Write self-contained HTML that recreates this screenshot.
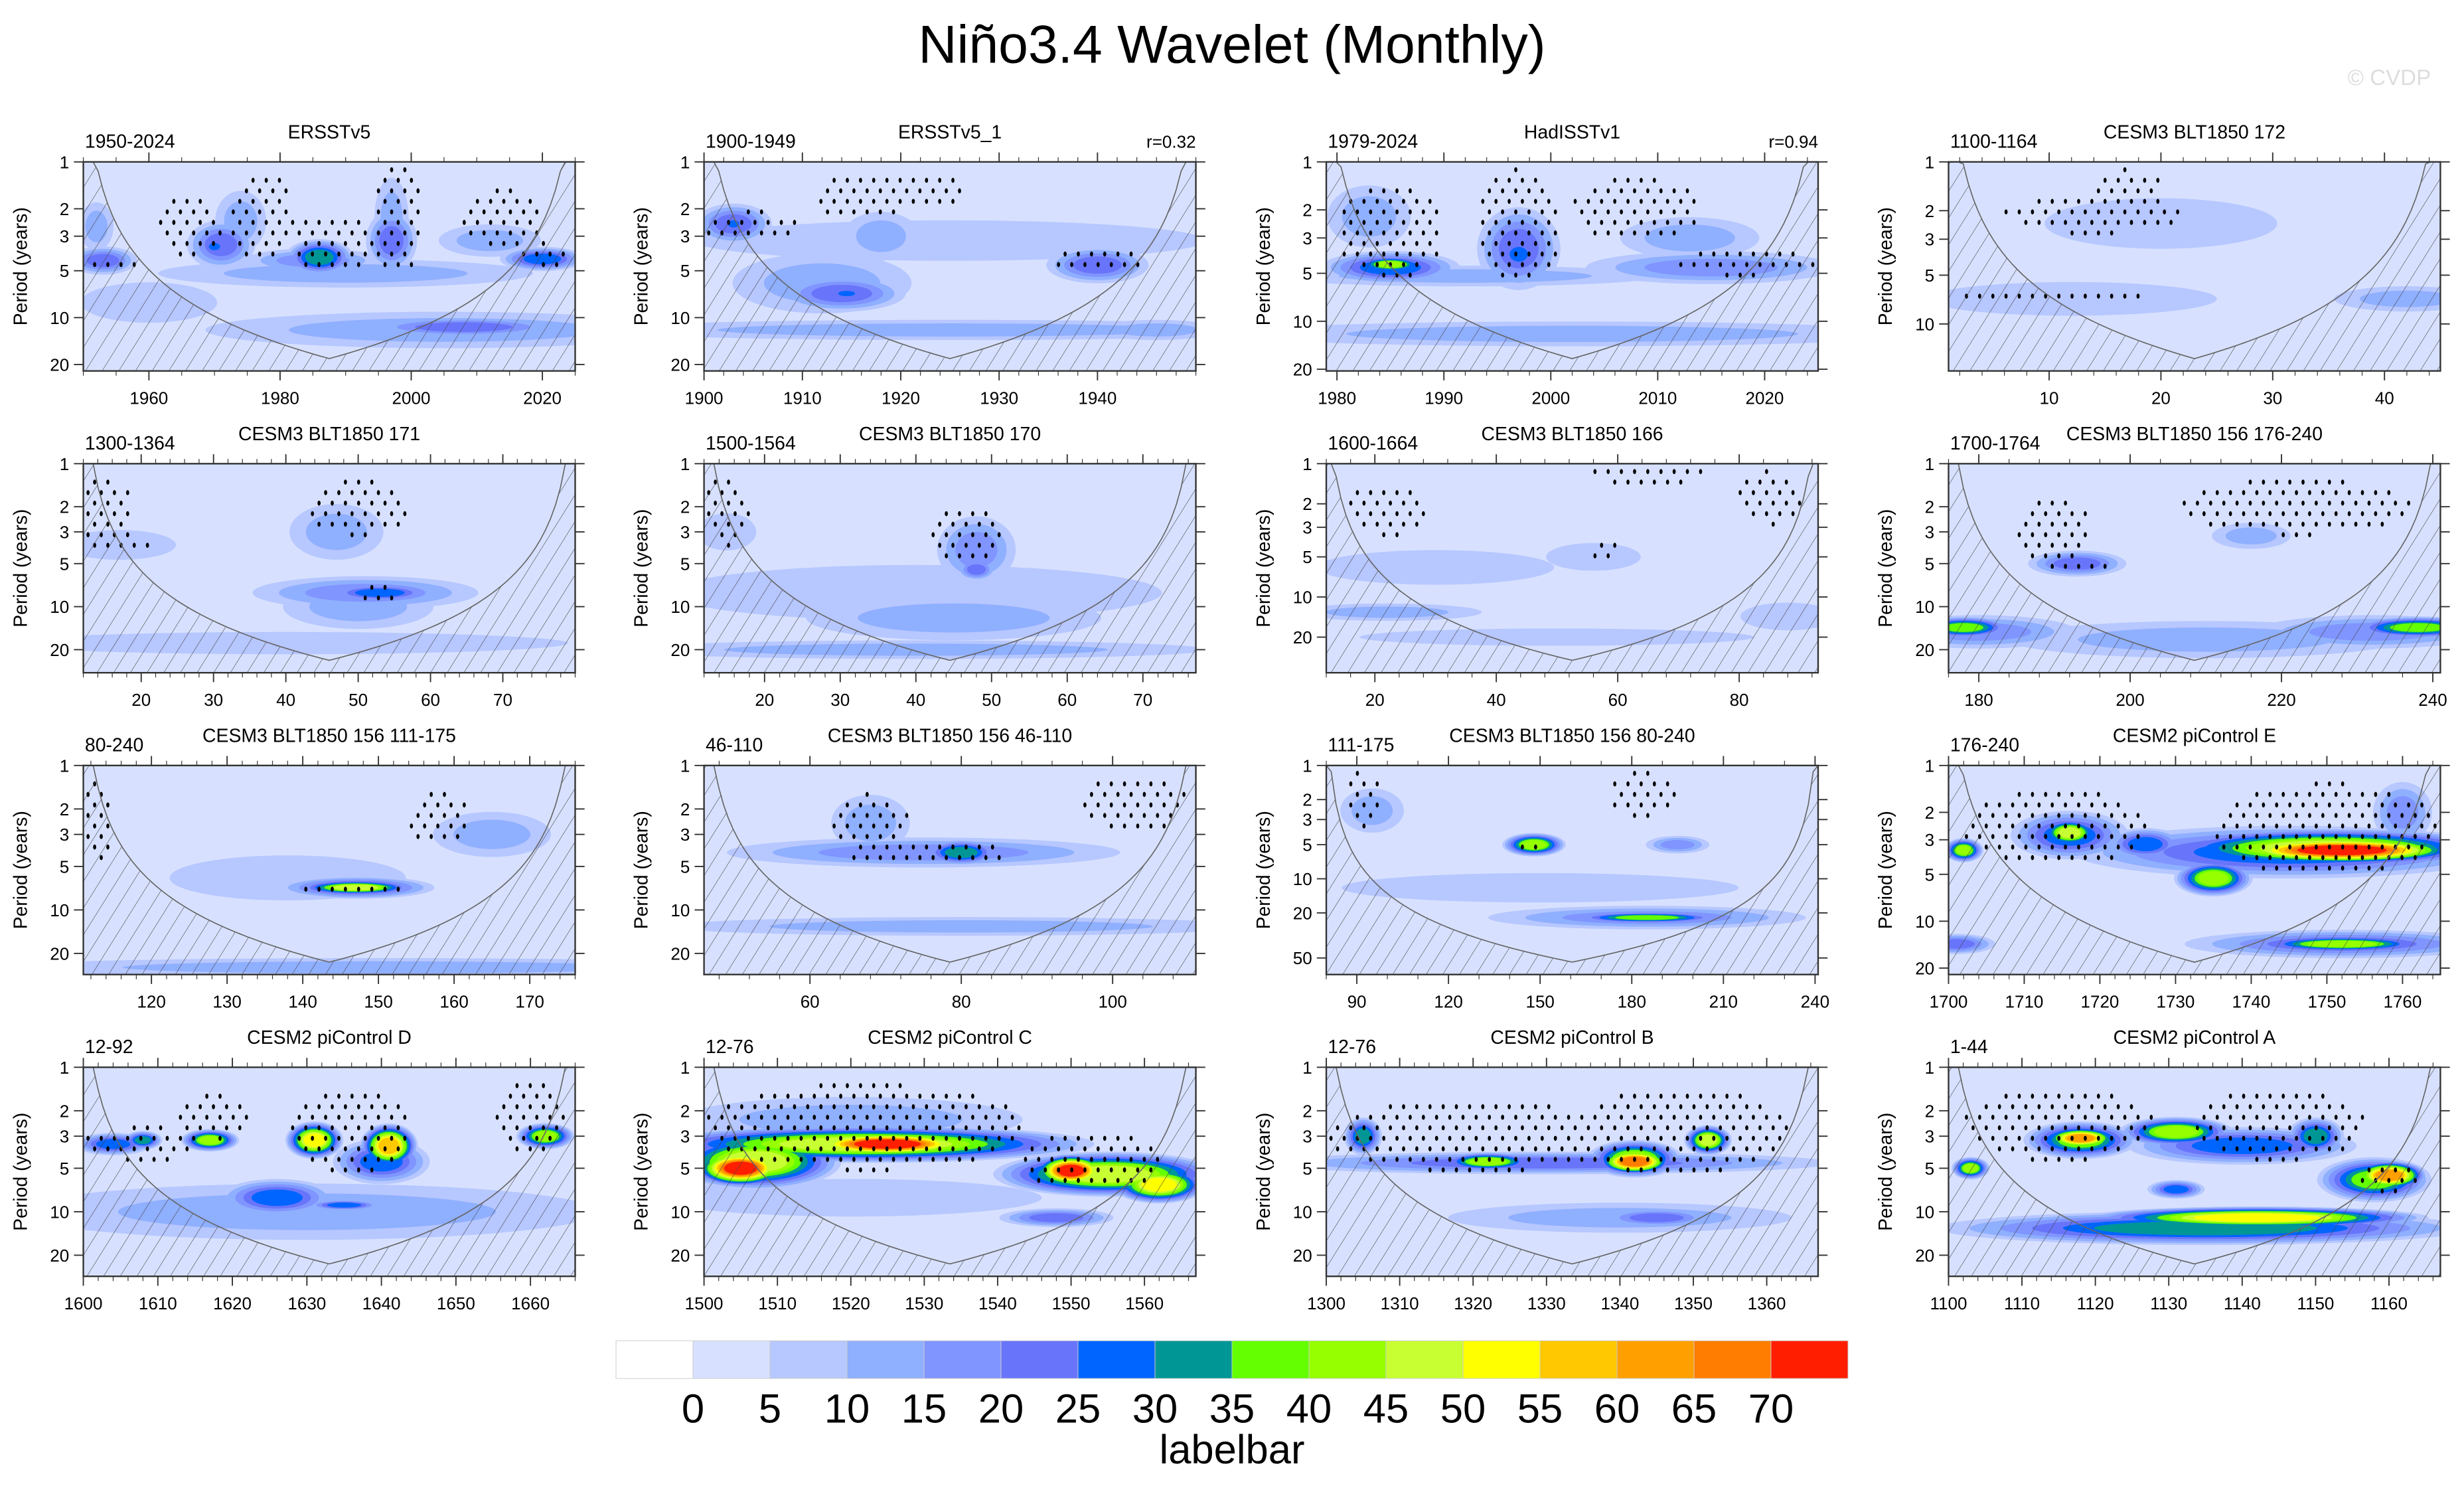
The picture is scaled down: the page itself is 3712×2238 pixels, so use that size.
<!DOCTYPE html>
<html><head><meta charset="utf-8">
<style>
html,body{margin:0;padding:0;background:#fff;}
svg{display:block;}
text{font-family:"Liberation Sans",sans-serif;fill:#000;}
</style></head>
<body>
<svg id="chart" width="3712" height="2238" viewBox="0 0 1568 945.4" xmlns="http://www.w3.org/2000/svg">
<defs>
<pattern id="hatch" patternUnits="userSpaceOnUse" width="9" height="9" patternTransform="rotate(32)">
<line x1="0" y1="0" x2="0" y2="9" stroke="#444" stroke-width="0.5"/>
</pattern>
</defs>
<text x="784" y="40" font-size="34" text-anchor="middle">Niño3.4 Wavelet (Monthly)</text>
<text x="1547" y="54" font-size="14" text-anchor="end" style="fill:#ddd">© CVDP</text>
</svg>
<script>
// ---- data ----
const levelColors = ["#ffffff","#d7e1ff","#b7c7ff","#8fafff","#8095ff","#6875fa","#0064ff","#009696","#64ff00","#96ff00","#c8ff32","#ffff00","#ffc800","#ffa000","#ff7d00","#ff1e00"];
const labelbarValues = [0,5,10,15,20,25,30,35,40,45,50,55,60,65,70];
const panelTitles = ["ERSSTv5","ERSSTv5_1","HadISSTv1","CESM3 BLT1850 172","CESM3 BLT1850 171","CESM3 BLT1850 170","CESM3 BLT1850 166","CESM3 BLT1850 156 176-240","CESM3 BLT1850 156 111-175","CESM3 BLT1850 156 46-110","CESM3 BLT1850 156 80-240","CESM2 piControl E","CESM2 piControl D","CESM2 piControl C","CESM2 piControl B","CESM2 piControl A"];
const panelLeftLabels = ["1950-2024","1900-1949","1979-2024","1100-1164","1300-1364","1500-1564","1600-1664","1700-1764","80-240","46-110","111-175","176-240","12-92","12-76","12-76","1-44"];
const panelRightLabels = ["","r=0.32","r=0.94","","","","","","","","","","","","",""];
const panelRanges = [[1950,2025],[1900,1950],[1979,2025],[1,45],[12,80],[12,77],[12,93],[176,241],[111,176],[46,111],[80,241],[1700,1765],[1600,1666],[1500,1567],[1300,1367],[1100,1167]];
const panelPeriodMax = [22,22,20.5,19.5,29,29,37,29,28,28,70,22,28,28,28,28];
const panelXTicks = [[1960,1980,2000,2020],[1900,1910,1920,1930,1940],[1980,1990,2000,2010,2020],[10,20,30,40],[20,30,40,50,60,70],[20,30,40,50,60,70],[20,40,60,80],[180,200,220,240],[120,130,140,150,160,170],[60,80,100],[90,120,150,180,210,240],[1700,1710,1720,1730,1740,1750,1760],[1600,1610,1620,1630,1640,1650,1660],[1500,1510,1520,1530,1540,1550,1560],[1300,1310,1320,1330,1340,1350,1360],[1100,1110,1120,1130,1140,1150,1160]];
const panelMinorStep = [5,2,2,2,2,2,4,4,2,4,10,2,2,2,2,2];
// blobs: [time, period, halfWidthYears, halfHeightDecades, peakLevel]
const blobs = [
 [[1953,4.3,4,0.07,5],[1952,2.6,2,0.12,3],[1971,3.4,4,0.12,5],[1970,3.5,1.5,0.04,6],[1986,4.1,4,0.09,7],[1985,4.3,8,0.06,4],[1997,3.2,3,0.15,5],[1974,2.4,3,0.15,3],[1997,2.3,2,0.2,3],[1990,5.2,22,0.07,3],[2008,11.5,12,0.05,5],[2005,12,28,0.09,3],[2020,4.2,5,0.06,6],[2012,3.2,6,0.08,3],[1960,8,8,0.1,2]],
 [[1903,2.5,3,0.1,5],[1903,2.5,1,0.04,6],[1914,7,5,0.09,5],[1914.5,7,1.5,0.03,6],[1912,6,7,0.15,3],[1940,4.6,4,0.09,5],[1925,12,28,0.05,3],[1946,12,5,0.05,3],[1925,3.2,20,0.1,2],[1918,3,3,0.12,3]],
 [[1985,4.6,5,0.08,6],[1985,4.4,2.5,0.04,9],[1997,3.5,3,0.2,5],[1997,3.8,1.5,0.08,6],[1992,5.2,14,0.05,3],[2002,12,25,0.06,3],[2015,4.6,9,0.08,4],[2013,3,5,0.1,3],[1983,2.2,3,0.15,3]],
 [[42,7,5,0.06,3],[12,7,10,0.08,2],[20,2.4,8,0.12,2]],
 [[53,8,6,0.05,6],[51,8,12,0.09,4],[50,10,8,0.12,3],[47,3,5,0.15,3],[40,18,30,0.06,2],[17,3.7,6,0.08,2]],
 [[48,4,4,0.18,4],[48,5.5,2,0.06,5],[45,12,15,0.12,3],[40,8,25,0.15,2],[40,20,30,0.05,3],[15,3,3,0.1,2]],
 [[30,6,15,0.1,2],[22,13,12,0.05,3],[56,5,6,0.08,2],[88,14,6,0.08,2],[50,20,25,0.05,2]],
 [[193,5,5,0.07,5],[178,14,5,0.06,8],[180,15,10,0.09,4],[238,14,7,0.06,8],[232,15,12,0.09,4],[216,3.2,4,0.07,3],[210,17,20,0.1,3]],
 [[147,7,8,0.06,6],[147,7,6,0.04,10],[150,25,40,0.05,3],[138,6,12,0.12,2],[165,3,6,0.12,3]],
 [[80,4,4,0.07,7],[75,4,20,0.08,4],[80,13,30,0.05,3],[68,2.5,4,0.15,3]],
 [[148,5,8,0.08,9],[185,22,20,0.04,8],[185,22,40,0.08,4],[150,12,50,0.1,2],[95,2.5,8,0.15,3],[195,5,8,0.06,4]],
 [[1752,3.5,13,0.07,15],[1750,3.4,18,0.1,10],[1745,3.6,22,0.13,6],[1735,5.3,4,0.09,9],[1716,2.7,3,0.07,10],[1716,2.8,6,0.12,6],[1702,3.5,2,0.06,9],[1726,3.2,4,0.08,6],[1752,14,9,0.04,9],[1752,14,16,0.07,5],[1701,14,4,0.05,5],[1760,2,3,0.15,4]],
 [[1617,3.2,3,0.06,9],[1608,3.2,2,0.05,7],[1604,3.4,4,0.06,6],[1631,3.2,3,0.1,11],[1641,3.5,3,0.12,12],[1640,4.5,5,0.12,6],[1662,3,3,0.07,9],[1626,8,6,0.1,6],[1635,9,4,0.03,6],[1630,10,30,0.15,3]],
 [[1505,5,5,0.1,15],[1507,4.5,9,0.15,10],[1525,3.4,10,0.07,15],[1522,3.4,24,0.1,10],[1520,2.3,18,0.12,3],[1550,5.2,4,0.09,15],[1555,5.5,12,0.12,10],[1562,6.5,5,0.1,11],[1548,11,6,0.05,5],[1520,8,20,0.1,2]],
 [[1342,4.5,4,0.07,14],[1342,4.3,5,0.1,9],[1322,4.5,5,0.05,9],[1330,4.6,30,0.06,5],[1352,3.2,2.5,0.08,10],[1305,3,2,0.1,7],[1345,11,6,0.05,5],[1340,11,18,0.08,3]],
 [[1118,3.1,4,0.06,13],[1118,3.2,6,0.1,8],[1131,2.8,6,0.08,9],[1140,3.5,12,0.1,6],[1150,3,3,0.1,7],[1142,11,18,0.06,11],[1135,13,28,0.09,7],[1160,5.6,4,0.08,13],[1158,6,6,0.12,8],[1131,7,3,0.05,6],[1103,5,2,0.06,9]]
];
// stipple regions (elliptical): [time, period, halfWidthYears, halfHeightDecades]
const stipples = [
 [[1955,4.5,4,0.06],[1966,2.6,5,0.2],[1977,2.3,5,0.3],[1988,3.3,6,0.2],[1998,2.3,4,0.35],[2014,2.3,6,0.2],[2021,4,4,0.08]],
 [[1905,2.6,5,0.1],[1916,1.7,5,0.15],[1940,4.3,5,0.08],[1923,1.5,4,0.1]],
 [[1985,2.7,5,0.3],[1997,2.5,4,0.35],[2008,2,6,0.2],[2018,4.3,7,0.08]],
 [[14,2.1,8,0.12],[10,6.8,8,0.06],[17,1.4,3,0.1]],
 [[15,2.2,4,0.25],[50,2,7,0.2],[53,8,7,0.04],[16,3.6,6,0.06]],
 [[15,2.2,3,0.25],[47,3.2,5,0.2]],
 [[22,2.2,7,0.2],[58,4.5,3,0.05],[85,1.8,6,0.2],[65,1.2,10,0.08]],
 [[190,3,5,0.25],[222,2,15,0.2],[194,5,4,0.05]],
 [[113,2.5,2,0.3],[147,7,7,0.04],[158,2.3,4,0.2]],
 [[75,4,15,0.05],[68,2.5,5,0.2],[103,1.8,7,0.2]],
 [[92,2,6,0.25],[145,5,4,0.05],[185,1.8,12,0.2]],
 [[1714,2.5,12,0.25],[1750,2.6,15,0.3]],
 [[1608,3.4,8,0.12],[1636,2.8,8,0.3],[1660,2.2,5,0.25],[1618,2.2,5,0.15]],
 [[1522,2.6,22,0.3],[1553,4.5,10,0.2]],
 [[1320,3,20,0.25],[1348,2.8,15,0.3]],
 [[1115,2.5,13,0.25],[1145,2.5,12,0.25],[1160,6,4,0.1]]
];
// ---- layout ----
const colLeft = [53,448,844,1240], panelW = 313;
const rowTop = [103,295,487,679], panelH = 133;
const NS = "http://www.w3.org/2000/svg";
const svg = document.getElementById("chart");
function mk(tag, attrs, parent){ const e=document.createElementNS(NS,tag); for(const k in attrs) e.setAttribute(k,attrs[k]); (parent||svg).appendChild(e); return e; }
const SIZE = 1.3;

for(let i=0;i<16;i++){
  const r=Math.floor(i/4), c=i%4;
  const L=colLeft[c], T=rowTop[r], W=panelW, H=panelH;
  const [t0,t1]=panelRanges[i], pmax=panelPeriodMax[i];
  const xs = t => L + (t-t0)/(t1-t0)*W;
  const ys = p => T + Math.log10(p)/Math.log10(pmax)*H;
  const pxYear = W/(t1-t0), pxDec = H/Math.log10(pmax);
  const g = mk("g",{});
  
  
  const clip = mk("clipPath",{id:"clip"+i},g);
  mk("rect",{x:L,y:T,width:W,height:H},clip);
  const plot = mk("g",{"clip-path":"url(#clip"+i+")"},g);
  const bg = mk("rect",{x:L,y:T,width:W,height:H,fill:levelColors[1]},plot);
  
  
  const bl = blobs[i];
  for(let lv=2; lv<=15; lv++){
    bl.forEach(b=>{
      const [bt,bp,bw,bh,peak]=b;
      if(peak<lv) return;
      const s = peak<=2 ? 1 : 1-(lv-2)/(peak-1)*0.7;
      const el = mk("ellipse",{cx:xs(bt),cy:ys(bp),rx:bw*pxYear*s*SIZE,ry:bh*pxDec*s*SIZE,fill:levelColors[lv]},plot);
      
      
    });
  }
  // stippling on a global grid, inside elliptical regions
  const dx=8.4, dy=6.7;
  for(let row=0, y=T+5; y<T+H; y+=dy, row++){
    for(let x=L+3+(row%2)*dx/2; x<L+W; x+=dx){
      const inside = stipples[i].some(sr=>{
        const [st,sp,sw,sh]=sr;
        const u=(x-xs(st))/(sw*pxYear), v=(y-ys(sp))/(sh*pxDec);
        return u*u+v*v<=1;
      });
      if(!inside) continue;
      const d = mk("ellipse",{cx:x,cy:y,rx:1.0,ry:1.6,fill:"#000"},plot);
      
      
    }
  }
  // cone of influence
  const pn = Math.pow(pmax,0.94);
  const k = pn/((t1-t0)/2);
  let pts=[];
  for(let j=0;j<=100;j++){
    const t=t0+(t1-t0)*j/100;
    const p=Math.max(1.0001, k*Math.min(t-t0,t1-t)+0.05);
    pts.push([xs(t), ys(p)]);
  }
  const poly = pts.map(p=>p[0].toFixed(2)+","+p[1].toFixed(2)).join(" ");
  const hatchPoly = mk("polygon",{points:poly+" "+(L+W)+","+(T+H+30)+" "+L+","+(T+H+30),fill:"url(#hatch)"},plot);
  
  
  const coi = mk("polyline",{points:poly,fill:"none",stroke:"#666","stroke-width":0.7},plot);
  
  
  const fr = mk("rect",{x:L,y:T,width:W,height:H,fill:"none",stroke:"#333","stroke-width":1},g);
  
  
  const yt = pmax>50 ? [1,2,3,5,10,20,50] : [1,2,3,5,10,20];
  yt.forEach(p=>{
    if(p>pmax) return;
    const y=ys(p);
    mk("line",{x1:L-6,y1:y,x2:L,y2:y,stroke:"#333","stroke-width":0.8},g);
    mk("line",{x1:L+W,y1:y,x2:L+W+6,y2:y,stroke:"#333","stroke-width":0.8},g);
    const tl = mk("text",{x:L-9,y:y+4,"font-size":11,"text-anchor":"end"},g);
    tl.textContent=p;
    
    
  });
  const ms = panelMinorStep[i];
  for(let t=Math.ceil(t0/ms)*ms; t<=t1; t+=ms){
    const x=xs(t);
    mk("line",{x1:x,y1:T+H,x2:x,y2:T+H+3,stroke:"#333","stroke-width":0.5},g);
    mk("line",{x1:x,y1:T-3,x2:x,y2:T,stroke:"#333","stroke-width":0.5},g);
  }
  panelXTicks[i].forEach(t=>{
    const x=xs(t);
    mk("line",{x1:x,y1:T+H,x2:x,y2:T+H+6,stroke:"#333","stroke-width":0.8},g);
    mk("line",{x1:x,y1:T-6,x2:x,y2:T,stroke:"#333","stroke-width":0.8},g);
    const tl = mk("text",{x:x,y:T+H+21,"font-size":11,"text-anchor":"middle"},g);
    tl.textContent=t;
    
    
  });
  const yl = mk("text",{x:0,y:0,"font-size":12,"text-anchor":"middle",transform:"translate("+(L-36)+","+(T+H/2)+") rotate(-90)"},g);
  yl.textContent="Period (years)";
  
  
  const tt = mk("text",{x:L+W/2,y:T-15,"font-size":12,"text-anchor":"middle"},g);
  tt.textContent=panelTitles[i];
  
  
  const ll = mk("text",{x:L+1,y:T-9,"font-size":12},g);
  ll.textContent=panelLeftLabels[i];
  
  
  if(panelRightLabels[i]){
    const rl = mk("text",{x:L+W,y:T-9,"font-size":11,"text-anchor":"end"},g);
    rl.textContent=panelRightLabels[i];
    
    
  }
}
const lb = mk("g",{});


const lbX=392, lbW=784/16, lbY=853, lbH=24;
levelColors.forEach((col,j)=>{
  const b = mk("rect",{x:lbX+j*lbW,y:lbY,width:lbW,height:lbH,fill:col,stroke:"#ccc","stroke-width":0.4},lb);
  
  
});
labelbarValues.forEach((v,j)=>{
  const t = mk("text",{x:lbX+(j+1)*lbW,y:905,"font-size":26,"text-anchor":"middle"},lb);
  t.textContent=v;
  
  
});
const lbt = mk("text",{x:784,y:931,"font-size":26,"text-anchor":"middle"},lb);
lbt.textContent="labelbar";


</script>
</body></html>
